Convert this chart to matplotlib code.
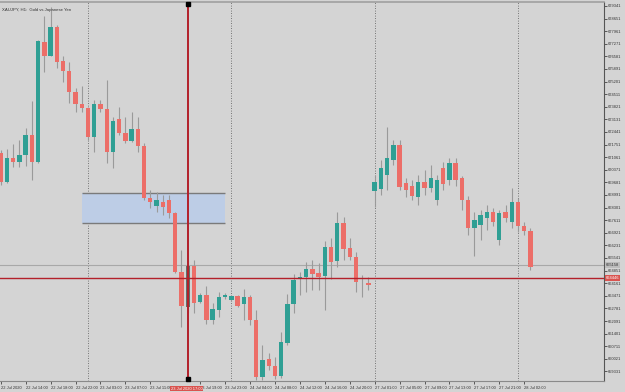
import matplotlib
matplotlib.use("Agg")
import matplotlib.pyplot as plt
from matplotlib.patches import Rectangle

plt.rcParams['font.family'] = ['Liberation Sans', 'DejaVu Sans']

# XAUJPY H1 candles, 22 Jul 2020 10:00 .. 28 Jul 2020 03:00
opens = [671291, 669703, 671018, 670799, 671182, 672277, 670799, 677370, 676603, 678191,
         676329, 675782, 674632, 673975, 673756, 672168, 673975, 673701, 671346, 673153,
         672387, 671949, 672606, 671675, 668827, 668389, 668608, 668718, 668006, 664775,
         662858, 665103, 663132, 663515, 662146, 662694, 663406, 663241, 663460, 663022,
         663406, 662146, 659025, 660010, 659627, 659080, 660887, 663022, 664391, 664501,
         664939, 664720, 664556, 666144, 665377, 667458, 666089, 665596, 664240, 664172,
         669210, 669320, 670087, 670908, 671730, 669649, 669484, 668882, 669703, 669375,
         668718, 670470, 669813, 670744, 669922, 668718, 667184, 667349, 667732, 668060,
         666527, 668060, 667513, 668608, 667294, 667020]
highs = [671456, 671510, 671784, 672003, 672660, 674139, 677479, 678794, 679287, 678301,
         676603, 676275, 674851, 674960, 673810, 674194, 674194, 675289, 673263, 673810,
         673263, 673537, 673263, 671839, 669265, 669156, 668991, 668991, 668060, 665980,
         665432, 665432, 663625, 664008, 663077, 663680, 663625, 663515, 663515, 663844,
         663515, 662694, 660777, 660339, 660120, 661489, 663570, 664665, 664775, 665322,
         665432, 665268, 666472, 666637, 668060, 667787, 666637, 665870, 664610, 664501,
         670087, 670908, 672715, 672003, 672003, 669922, 669813, 670087, 670360, 670634,
         670087, 670799, 671018, 671018, 670032, 668937, 668060, 668170, 668444, 668280,
         668170, 668444, 669375, 668827, 667513, 667184]
lows = [669539, 669649, 670525, 670525, 670579, 669813, 670744, 675727, 676603, 675946,
        675179, 674029, 673537, 673537, 672003, 671346, 673537, 670744, 670470, 672277,
        671839, 671894, 671346, 668718, 668280, 668060, 667896, 667732, 664720, 661763,
        662530, 662530, 663077, 661927, 661927, 662310, 663296, 663187, 662858, 662146,
        661872, 658860, 658860, 659408, 658915, 658970, 660777, 662530, 663515, 663680,
        663789, 663789, 662694, 664391, 665049, 665432, 665432, 663680, 663406, 663789,
        668334, 668991, 669265, 670634, 669265, 668882, 668718, 668444, 668991, 669156,
        668444, 669265, 669539, 669484, 668170, 666801, 665651, 666527, 667075, 667294,
        666253, 667513, 667184, 666965, 666801, 664884]
closes = [669703, 671018, 670799, 671182, 672277, 670799, 677425, 676603, 678191, 676275,
          675782, 674632, 673975, 673756, 672168, 673975, 673701, 671346, 673044, 672387,
          671949, 672606, 671675, 668827, 668608, 668718, 668334, 668006, 664775, 662913,
          665103, 663077, 663515, 662146, 662749, 663406, 663515, 663460, 662913, 663406,
          662146, 659025, 659956, 659627, 659080, 660941, 663022, 664337, 664501, 664939,
          664665, 664501, 666144, 665322, 667458, 666034, 665596, 664227, 664215, 664063,
          669703, 670470, 671018, 671730, 669430, 669265, 668937, 669703, 669375, 669922,
          669813, 669594, 670744, 669813, 668718, 667184, 667622, 667896, 668060, 667513,
          668006, 667732, 668608, 667294, 667020, 665049]

# time axis labels every 4 bars (the 15:00 one sits under the crosshair box)
tick_bars = [0, 4, 8, 12, 16, 20, 24, 32, 36, 40, 44, 48, 52, 56,
             60, 64, 68, 72, 76, 80, 84]
tick_labels = ["22 Jul 2020", "22 Jul 14:00", "22 Jul 18:00", "22 Jul 22:00",
               "23 Jul 03:00", "23 Jul 07:00", "23 Jul 11:00",
               "23 Jul 19:00", "23 Jul 23:00", "24 Jul 04:00", "24 Jul 08:00",
               "24 Jul 12:00", "24 Jul 16:00", "24 Jul 20:00", "27 Jul 01:00",
               "27 Jul 05:00", "27 Jul 09:00", "27 Jul 13:00", "27 Jul 17:00",
               "27 Jul 21:00", "28 Jul 02:00"]
day_breaks = [14, 37, 60, 83]

price_ticks = [679341 - 690 * k for k in range(30)]

zone_bars = [13.04, 36.0]
zone_prices = [667458, 669101]
gray_level = 665158
cross_bar = 30
cross_price = 664446
cross_time = "23 Jul 2020 17:00"

BG = "#d4d4d4"
UP = "#2f9f94"
DOWN = "#ec6e68"
WICK = "#9a9a9a"
FS = 2.9

fig = plt.figure(figsize=(6.25, 3.92), dpi=100, facecolor=BG)
ax = fig.add_axes([0.0, 0.028, 0.9664, 0.967])
ax.set_facecolor(BG)

# period separators
for b in day_breaks:
    ax.axvline(b, color="#555555", lw=0.6, ls=(0, (1, 2)), zorder=1)

# zone
ax.add_patch(Rectangle((zone_bars[0], zone_prices[0]), zone_bars[1] - zone_bars[0],
                       zone_prices[1] - zone_prices[0], facecolor="#bdcde6",
                       edgecolor="none", zorder=1))
ax.hlines(zone_prices, zone_bars[0], zone_bars[1], color="#7a7a7a", lw=1.0, zorder=1)

ax.axhline(gray_level, color="#a8a8a8", lw=0.8, zorder=1)

# candles
for i in range(len(opens)):
    o, h, l, c = opens[i], highs[i], lows[i], closes[i]
    col = UP if c >= o else DOWN
    if i == cross_bar:
        col = "#5f706c"
    ax.vlines(i, l, h, color=WICK, lw=0.8, zorder=2)
    lo, hi = min(o, c), max(o, c)
    ax.bar(i, max(hi - lo, 25), bottom=lo, width=0.7, color=col, zorder=3, linewidth=0)

# crosshair
ax.axvline(cross_bar, color="#b3202a", lw=1.4, zorder=5)
ax.axhline(cross_price, color="#b3202a", lw=1.0, zorder=5)
ax.plot([cross_bar, cross_bar], [679460, 658920], ls="none", marker="s", ms=2.6,
        color="black", zorder=6, clip_on=False)

ax.set_xlim(-0.12, 96.8)
ax.set_ylim(658805, 679560)

ax.yaxis.tick_right()
ax.set_yticks(price_ticks)
ax.set_yticklabels([str(p) for p in price_ticks])
ax.tick_params(axis="y", length=2, width=0.6, pad=1, labelsize=FS,
               colors="#444444", labelcolor="#333333")
ax.set_xticks(tick_bars)
ax.set_xticklabels(tick_labels, ha="left")
ax.tick_params(axis="x", length=2, width=0.6, pad=1.5, labelsize=FS,
               colors="#444444", labelcolor="#333333")

ax.spines["left"].set_visible(False)
ax.spines["right"].set_color("#555555")
ax.spines["right"].set_linewidth(0.8)
ax.spines["bottom"].set_color("#8a8a8a")
ax.spines["bottom"].set_linewidth(0.8)
ax.spines["top"].set_color("#a0a0a0")
ax.spines["top"].set_linewidth(1.2)

# price boxes on the axis
ax.text(1.003, gray_level, str(gray_level), transform=ax.get_yaxis_transform(),
        fontsize=FS, va="center", ha="left", color="#333333",
        bbox=dict(boxstyle="square,pad=0.15", fc="#bdbdbd", ec="none"), zorder=7,
        clip_on=False)
ax.text(1.003, cross_price, str(cross_price), transform=ax.get_yaxis_transform(),
        fontsize=FS, va="center", ha="left", color="white",
        bbox=dict(boxstyle="square,pad=0.15", fc="#d9534f", ec="none"), zorder=7,
        clip_on=False)
# crosshair time box
ax.text(cross_bar - 0.2, -0.02, cross_time, transform=ax.get_xaxis_transform(),
        fontsize=FS, va="center", ha="center", color="white",
        bbox=dict(boxstyle="square,pad=0.2", fc="#d9534f", ec="none"), zorder=7,
        clip_on=False)

ax.text(0.004, 0.985, "XAUJPY, H1:  Gold vs Japanese Yen", transform=ax.transAxes,
        fontsize=3.1, va="top", ha="left", color="#333333")

fig.savefig("out.png", dpi=100, facecolor=BG)
